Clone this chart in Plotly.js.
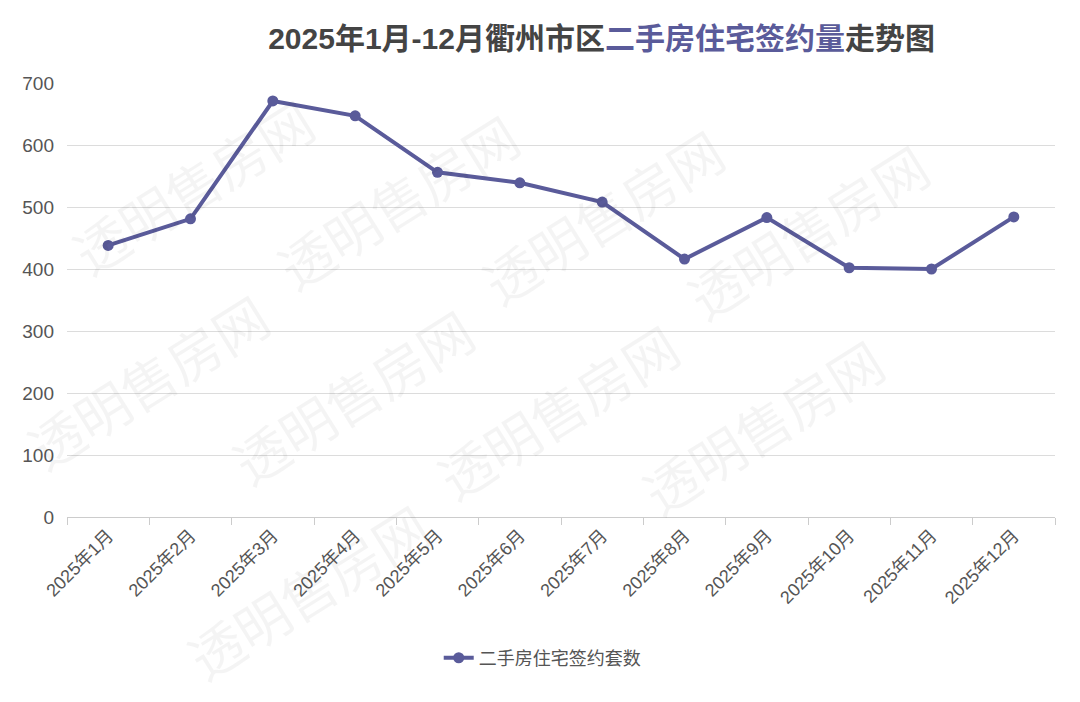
<!DOCTYPE html>
<html>
<head>
<meta charset="utf-8">
<script src="https://cdn.plot.ly/plotly-3.0.1.min.js"></script>
<style>html,body{margin:0;padding:0;background:#fff;}#chart{width:1080px;height:702px;}</style>
</head>
<body>
<div id="chart"></div>
<script>
const months = ["2025年1月","2025年2月","2025年3月","2025年4月","2025年5月","2025年6月","2025年7月","2025年8月","2025年9月","2025年10月","2025年11月","2025年12月"];
const signedUnits = [438, 481, 671, 647, 556, 539, 508, 416, 483, 402, 400, 484];
const seriesName = "二手房住宅签约套数";
const yTicks = [0, 100, 200, 300, 400, 500, 600, 700];
const watermarkText = "透明售房网";

const FONT = "'Liberation Sans', Arial, 'Noto Sans CJK SC', sans-serif";
const LINE = "#5a5b9a";

// faint diagonal watermark pattern (decoration only)
const watermarks = [];
const W = 1080, H = 702, L = 67, T = 83, PW = 988, PH = 434;
for (let i = -8; i <= 8; i++) {
  for (let j = -6; j <= 6; j++) {
    const px = 352 + i * 205 - j * 45;
    const py = 395 + i * 15 + j * 195;
    if (px < 140 || px > W - 140 || py < 100 || py > H - 100) continue;
    watermarks.push({
      text: watermarkText, xref: "paper", yref: "paper",
      x: (px - L) / PW, y: (T + PH - py) / PH,
      xanchor: "center", yanchor: "middle",
      showarrow: false, textangle: -32,
      font: {family: "'Noto Sans CJK SC', sans-serif", size: 54, color: "rgba(0,0,0,0.045)"}
    });
  }
}

const trace = {
  type: "scatter", mode: "lines+markers",
  x: months, y: signedUnits, name: seriesName,
  line: {color: LINE, width: 4},
  marker: {color: LINE, size: 11},
  cliponaxis: false
};

const layout = {
  width: W, height: H,
  paper_bgcolor: "#fff", plot_bgcolor: "rgba(0,0,0,0)",
  margin: {l: 67, r: 25, t: 83, b: 185},
  font: {family: FONT, color: "#555"},
  title: {
    text: "<b>2025年1月-12月衢州市区<span style='color:#5a5b9a'>二手房住宅签约量</span>走势图</b>",
    x: 0.557, xanchor: "center", xref: "container",
    y: 0.945, yanchor: "middle", yref: "container",
    font: {family: "'Liberation Sans', 'Noto Sans CJK SC', sans-serif", size: 30, color: "#444"}
  },
  xaxis: {
    type: "category", tickson: "boundaries",
    showgrid: false, showline: true, linecolor: "#ccc", linewidth: 1,
    ticks: "outside", ticklen: 7, tickcolor: "#ccc",
    tickangle: -45, tickfont: {size: 18, color: "#555"},
    range: [-0.5, 11.5], fixedrange: true
  },
  yaxis: {
    range: [0, 700], tickvals: yTicks, showgrid: true, gridcolor: "#dcdcdc", gridwidth: 1,
    zeroline: false, showline: false, ticks: "", ticklabelstandoff: 12,
    tickfont: {size: 19, color: "#555"}
  },
  showlegend: true,
  legend: {
    orientation: "h", x: 0.481, xanchor: "center", y: -0.325, yanchor: "middle",
    font: {size: 18, color: "#555"}
  },
  annotations: watermarks
};

Plotly.newPlot("chart", [trace], layout, {displayModeBar: false, staticPlot: true});
</script>
</body>
</html>
